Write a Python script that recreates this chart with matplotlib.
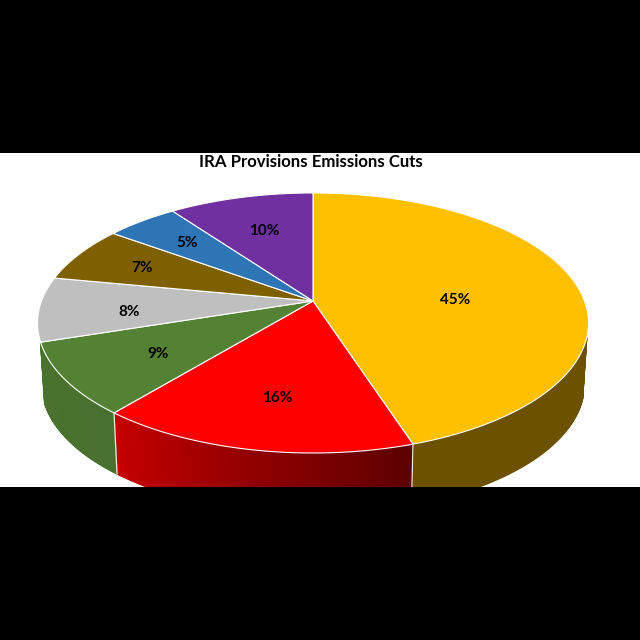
import numpy as np
import matplotlib
matplotlib.use('Agg')
import matplotlib.pyplot as plt
from matplotlib.colors import to_rgb

title = 'IRA Provisions Emissions Cuts'
shares = [45, 16, 9, 8, 7, 5, 10]
colors = ['#FFC000', '#FF0000', '#548235', '#BFBFBF', '#7F6000', '#2E75B6', '#7030A0']
# side wall darkening at the start and end of each slice
shade_start = [0.42, 0.36, 0.86, 0.8, 0.8, 0.8, 0.8]
shade_end = [0.42, 0.78, 0.88, 0.8, 0.8, 0.8, 0.8]
label_radius = [0.53, 0.68, 0.65, 0.68, 0.7, 0.7, 0.65]
label_dx = [2, 3, 1, 2, -4, -2, 1]
label_dy = [9, 2, 4, 6, 1, 0, 1]

# tilted disc, in pixels of the picture
cx, cy = 313, 301
rx, ry, tilt = 271.5, 126.3, 0.169
depth = 61
taper = 0.985
wall_from, wall_to = 106, 252  # part of the rim that has a wall under it


def project(theta, r=1.0):
    # theta clockwise from the top, degrees
    t = np.radians(theta)
    w = 1 + tilt * r * np.cos(t)
    return cx + rx * r * np.sin(t) / w, cy - ry * r * np.cos(t) / w


fig = plt.figure(figsize=(6.4, 6.4), dpi=100, facecolor='black')
ax = fig.add_axes([0, (640 - 487) / 640, 1, (487 - 153) / 640], facecolor='white')
ax.set_xlim(0, 640)
ax.set_ylim(487, 153)
ax.axis('off')
ax.add_patch(plt.Rectangle((0, 153), 640, 334, color='white', zorder=0))

edges = np.concatenate([[0], np.cumsum(shares)]) * 3.6

# side wall, one thin strip at a time so the shading runs along the rim
for i, base in enumerate(colors):
    a, b = max(edges[i], wall_from), min(edges[i + 1], wall_to)
    if b <= a:
        continue
    n = max(int(b - a) * 4, 2)
    th = np.linspace(a, b, n + 1)
    x, y = project(th)
    xb = cx + (x - cx) * taper
    yb = y + depth
    for j in range(n):
        u = (th[j] - edges[i]) / (edges[i + 1] - edges[i])
        s = shade_start[i] + (shade_end[i] - shade_start[i]) * u
        c = np.array(to_rgb(base)) * s
        ax.fill([x[j], x[j + 1], xb[j + 1], xb[j]], [y[j], y[j + 1], yb[j + 1], yb[j]],
                facecolor=c, edgecolor=c, lw=1.0, zorder=1)

# light seams where visible slices meet on the wall
for th in edges[1:3]:
    x, y = project(th)
    ax.plot([x, cx + (x - cx) * taper], [y, y + depth], color='#f4e8d8', lw=0.9, zorder=2)

# top face
for i, base in enumerate(colors):
    th = np.linspace(edges[i], edges[i + 1], 200)
    x, y = project(th)
    ax.fill(np.r_[cx, x], np.r_[cy, y], facecolor=base, edgecolor='white', lw=0.8,
            joinstyle='round', zorder=3)

for i, share in enumerate(shares):
    mid = (edges[i] + edges[i + 1]) / 2
    x, y = project(mid, label_radius[i])
    ax.text(x + label_dx[i], y + label_dy[i], f'{share}%', ha='center', va='center', fontsize=11,
            fontweight='bold', family='Lato', color='black', zorder=4)

ax.text(310.5, 162, title, ha='center', va='center', fontsize=12.1,
        fontweight='bold', family='Lato', color='black', zorder=4)

plt.savefig('out.png', dpi=100, facecolor=fig.get_facecolor())
plt.close()
